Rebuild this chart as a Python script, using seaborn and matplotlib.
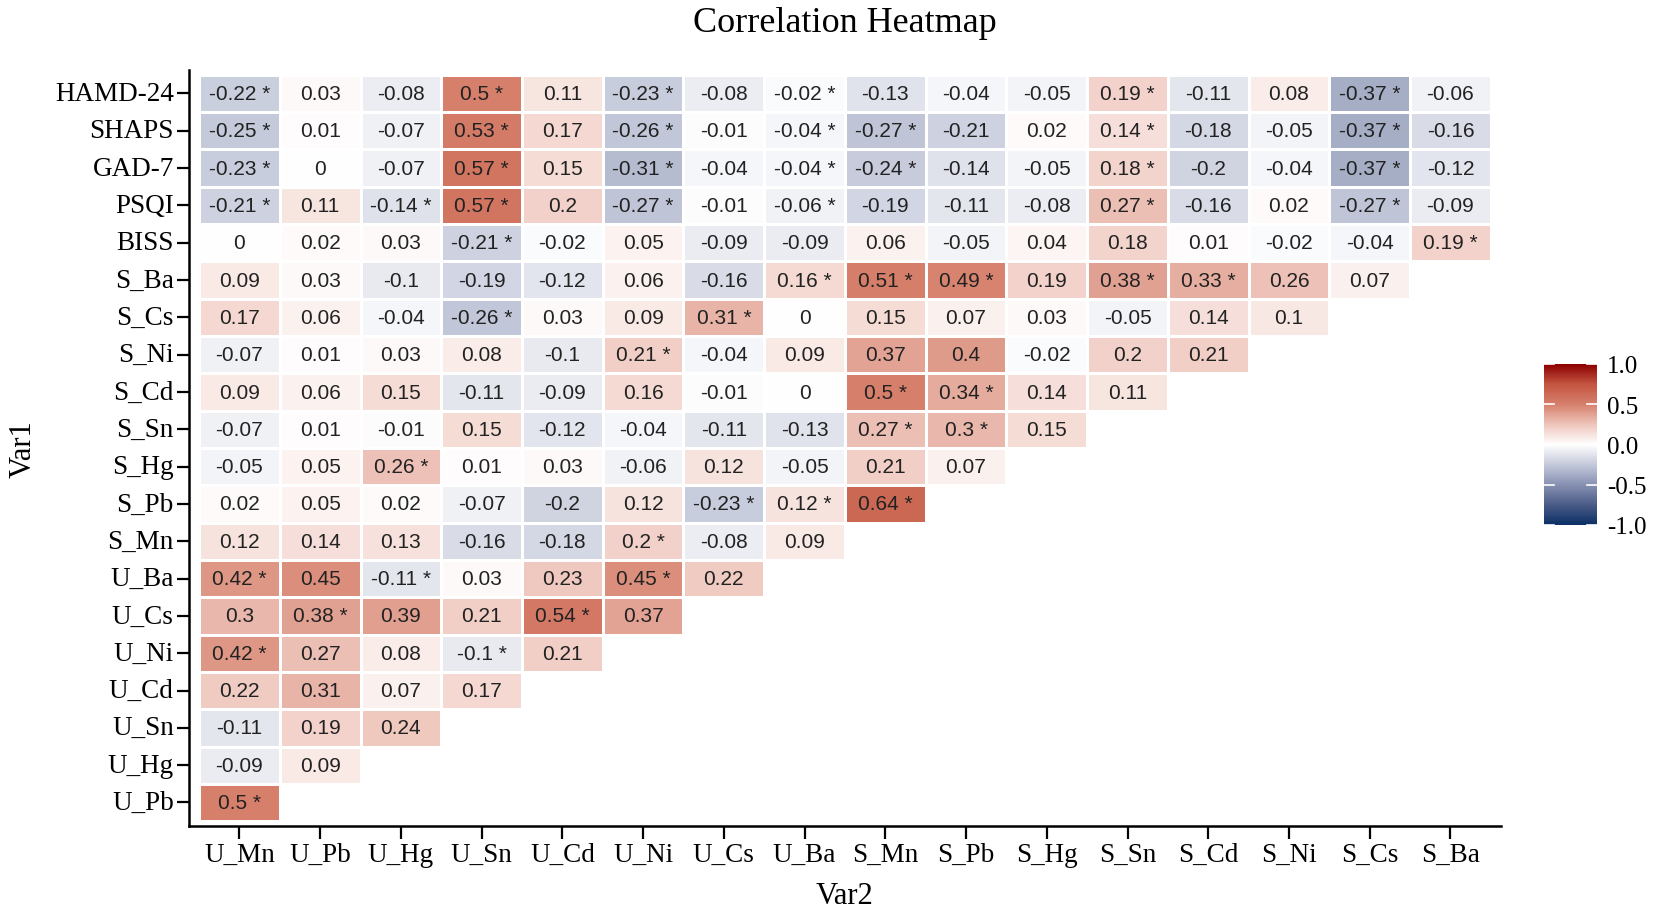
import numpy as np
import pandas as pd
import matplotlib
matplotlib.use("Agg")
import matplotlib.pyplot as plt
import seaborn as sns
from matplotlib.colors import LinearSegmentedColormap

# rows (Var1) and columns (Var2)
row_names = ["HAMD-24", "SHAPS", "GAD-7", "PSQI", "BISS",
             "S_Ba", "S_Cs", "S_Ni", "S_Cd", "S_Sn", "S_Hg", "S_Pb", "S_Mn",
             "U_Ba", "U_Cs", "U_Ni", "U_Cd", "U_Sn", "U_Hg", "U_Pb"]
col_names = ["U_Mn", "U_Pb", "U_Hg", "U_Sn", "U_Cd", "U_Ni", "U_Cs", "U_Ba",
             "S_Mn", "S_Pb", "S_Hg", "S_Sn", "S_Cd", "S_Ni", "S_Cs", "S_Ba"]

# correlation values (lower triangle, row by row)
corr_rows = [
    [-0.22, 0.03, -0.08, 0.5, 0.11, -0.23, -0.08, -0.02, -0.13, -0.04, -0.05, 0.19, -0.11, 0.08, -0.37, -0.06],
    [-0.25, 0.01, -0.07, 0.53, 0.17, -0.26, -0.01, -0.04, -0.27, -0.21, 0.02, 0.14, -0.18, -0.05, -0.37, -0.16],
    [-0.23, 0, -0.07, 0.57, 0.15, -0.31, -0.04, -0.04, -0.24, -0.14, -0.05, 0.18, -0.2, -0.04, -0.37, -0.12],
    [-0.21, 0.11, -0.14, 0.57, 0.2, -0.27, -0.01, -0.06, -0.19, -0.11, -0.08, 0.27, -0.16, 0.02, -0.27, -0.09],
    [0, 0.02, 0.03, -0.21, -0.02, 0.05, -0.09, -0.09, 0.06, -0.05, 0.04, 0.18, 0.01, -0.02, -0.04, 0.19],
    [0.09, 0.03, -0.1, -0.19, -0.12, 0.06, -0.16, 0.16, 0.51, 0.49, 0.19, 0.38, 0.33, 0.26, 0.07],
    [0.17, 0.06, -0.04, -0.26, 0.03, 0.09, 0.31, 0, 0.15, 0.07, 0.03, -0.05, 0.14, 0.1],
    [-0.07, 0.01, 0.03, 0.08, -0.1, 0.21, -0.04, 0.09, 0.37, 0.4, -0.02, 0.2, 0.21],
    [0.09, 0.06, 0.15, -0.11, -0.09, 0.16, -0.01, 0, 0.5, 0.34, 0.14, 0.11],
    [-0.07, 0.01, -0.01, 0.15, -0.12, -0.04, -0.11, -0.13, 0.27, 0.3, 0.15],
    [-0.05, 0.05, 0.26, 0.01, 0.03, -0.06, 0.12, -0.05, 0.21, 0.07],
    [0.02, 0.05, 0.02, -0.07, -0.2, 0.12, -0.23, 0.12, 0.64],
    [0.12, 0.14, 0.13, -0.16, -0.18, 0.2, -0.08, 0.09],
    [0.42, 0.45, -0.11, 0.03, 0.23, 0.45, 0.22],
    [0.3, 0.38, 0.39, 0.21, 0.54, 0.37],
    [0.42, 0.27, 0.08, -0.1, 0.21],
    [0.22, 0.31, 0.07, 0.17],
    [-0.11, 0.19, 0.24],
    [-0.09, 0.09],
    [0.5],
]

# 1 = marked with "*"
star_rows = [
    [1, 0, 0, 1, 0, 1, 0, 1, 0, 0, 0, 1, 0, 0, 1, 0],
    [1, 0, 0, 1, 0, 1, 0, 1, 1, 0, 0, 1, 0, 0, 1, 0],
    [1, 0, 0, 1, 0, 1, 0, 1, 1, 0, 0, 1, 0, 0, 1, 0],
    [1, 0, 1, 1, 0, 1, 0, 1, 0, 0, 0, 1, 0, 0, 1, 0],
    [0, 0, 0, 1, 0, 0, 0, 0, 0, 0, 0, 0, 0, 0, 0, 1],
    [0, 0, 0, 0, 0, 0, 0, 1, 1, 1, 0, 1, 1, 0, 0],
    [0, 0, 0, 1, 0, 0, 1, 0, 0, 0, 0, 0, 0, 0],
    [0, 0, 0, 0, 0, 1, 0, 0, 0, 0, 0, 0, 0],
    [0, 0, 0, 0, 0, 0, 0, 0, 1, 1, 0, 0],
    [0, 0, 0, 0, 0, 0, 0, 0, 1, 1, 0],
    [0, 0, 1, 0, 0, 0, 0, 0, 0, 0],
    [0, 0, 0, 0, 0, 0, 1, 1, 1],
    [0, 0, 0, 0, 0, 1, 0, 0],
    [1, 0, 1, 0, 0, 1, 0],
    [0, 1, 0, 0, 1, 0],
    [1, 0, 0, 1, 0],
    [0, 0, 0, 0],
    [0, 0, 0],
    [0, 0],
    [1],
]

n_col = len(col_names)
vals = np.full((len(row_names), n_col), np.nan)
labels = np.full((len(row_names), n_col), "", dtype=object)
for i, (r, s) in enumerate(zip(corr_rows, star_rows)):
    for j, (v, st) in enumerate(zip(r, s)):
        vals[i, j] = v
        labels[i, j] = f"{v:g}" + (" *" if st else "")

df = pd.DataFrame(vals, index=row_names, columns=col_names)

plt.rcParams["font.family"] = ["Liberation Serif", "DejaVu Serif"]
plt.rcParams["axes.unicode_minus"] = False

# blue - white - red gradient (ggplot gradient2 look)
cmap = LinearSegmentedColormap.from_list("rwb", [
    (0.0, (11/255, 47/255, 102/255)),
    (0.125, (75/255, 92/255, 135/255)),
    (0.25, (135/255, 145/255, 178/255)),
    (0.375, (196/255, 201/255, 218/255)),
    (0.5, (1, 1, 1)),
    (0.625, (238/255, 197/255, 187/255)),
    (0.75, (214/255, 128/255, 108/255)),
    (0.875, (195/255, 85/255, 65/255)),
    (1.0, (140/255, 0, 0)),
])

fig = plt.figure(figsize=(16.53, 9.12), dpi=100)
ax = fig.add_axes([0.1143, 0.0932, 0.7937, 0.829])
sns.heatmap(df, ax=ax, cmap=cmap, vmin=-1, vmax=1, cbar=False,
            annot=labels, fmt="", linewidths=1, linecolor="white",
            annot_kws={"color": "#222222", "fontsize": 15,
                       "family": ["Liberation Sans", "DejaVu Sans"]})

ax.set_xlim(-0.125, n_col + 0.125)
ax.set_ylim(len(row_names) + 0.13, -0.13)
for side in ["left", "bottom"]:
    ax.spines[side].set_visible(True)
    ax.spines[side].set_color("black")
    ax.spines[side].set_linewidth(1.8)

ax.tick_params(axis="both", length=9, width=1.6, color="black",
               labelsize=19.5, labelcolor="black")
ax.tick_params(axis="y", pad=2)
ax.tick_params(axis="x", pad=2.5)
plt.setp(ax.get_xticklabels(), rotation=0)
plt.setp(ax.get_yticklabels(), rotation=0)

ax.set_xlabel("Var2", fontsize=22, labelpad=10)
ax.set_ylabel("Var1", fontsize=22, labelpad=12)
ax.set_title("Correlation Heatmap", fontsize=26, pad=28)

# colour bar on the right
cax = fig.add_axes([1544/1653, 1 - 526/912, 53/1653, 161/912])
cb = fig.colorbar(ax.collections[0], cax=cax)
cb.outline.set_visible(False)
cb_ticks = [-1.0, -0.5, 0.0, 0.5, 1.0]
cb.set_ticks(cb_ticks)
cb.set_ticklabels([f"{t:.1f}" for t in cb_ticks])
cax.tick_params(length=0, labelsize=18, pad=7)
for t in cb_ticks:
    cax.plot([0, 0.18], [t, t], color="white", lw=1.2, transform=cax.get_yaxis_transform())
    cax.plot([0.82, 1], [t, t], color="white", lw=1.2, transform=cax.get_yaxis_transform())

fig.savefig("out.png", dpi=100)
